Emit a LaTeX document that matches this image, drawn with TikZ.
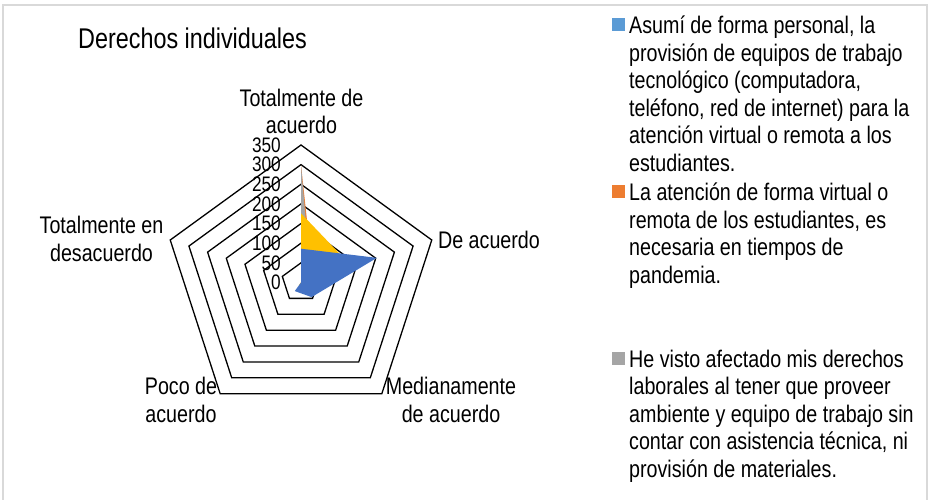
\documentclass[tikz,border=0pt]{standalone}
\usepackage{fontspec}
\setmainfont{Liberation Sans}[FakeStretch=0.82]
\usepackage{tikz}
\usetikzlibrary{calc}
\definecolor{serblue}{HTML}{4472C4}
\definecolor{keyblue}{HTML}{5B9BD5}
\definecolor{serorange}{HTML}{ED7D31}
\definecolor{sergray}{HTML}{A5A5A5}
\definecolor{seryellow}{HTML}{FFC000}
\definecolor{frame}{HTML}{D9D9D9}
\def\radarfill[#1](#2:#3:#4:#5:#6){\fill[#1] (90:#2) -- (18:#3) -- (-54:#4) -- (-126:#5) -- (162:#6) -- cycle;}
\tikzset{
  ring/.style={draw=black, line width=1.3pt, line join=miter},
  axislabel/.style={inner sep=0pt, align=center, font=\fontsize{24}{27.5}\selectfont},
  ticklabel/.style={inner sep=0pt, anchor=east, font=\fontsize{21}{21}\selectfont},
  keytext/.style={inner sep=0pt, anchor=north west, align=left, font=\fontsize{24}{27.5}\selectfont},
  keybox/.style={inner sep=0pt, minimum size=13pt}
}
\begin{document}
\begin{tikzpicture}[x=1pt, y=1pt]
		%%%%% START %%%%%
		\useasboundingbox (0, 0) rectangle (931, 500);
		\fill[white] (0, 0) rectangle (931, 500);
		\draw[frame, line width=1.2pt] (3, -10) -- (3, 495) -- (927, 495) -- (927, -10);
		
		\node[inner sep=0pt, anchor=base west, font=\fontsize{28.5}{30}\selectfont] (title) at (78, 451.7) {Derechos individuales};
		
		\begin{scope}[shift={(301, 217.5)}, x=0.392857pt, y=0.392857pt]
			\foreach \r in {50,100,...,350}
				\draw[ring] (90:\r) -- (18:\r) -- (-54:\r) -- (-126:\r) -- (162:\r) -- cycle;
			
			\radarfill[serorange](299:33:10:5:0)
			\radarfill[sergray](300:26:8:4:0)
			\radarfill[seryellow](176:135:20:10:0)
			\radarfill[serblue](86:203:46:27:0)
			
			\foreach \v in {0,50,...,350}
				\node[ticklabel] (tick\v) at (-51, \v) {\v};
		\end{scope}
		
		\node[axislabel] (totacuerdo) at (301.5, 388.5) {Totalmente de\\acuerdo};
		\node[axislabel] (deacuerdo) at (489, 260) {De acuerdo};
		\node[axislabel] (medacuerdo) at (451, 100) {Medianamente\\de acuerdo};
		\node[axislabel] (pocoacuerdo) at (181, 100) {Poco de\\acuerdo};
		\node[axislabel] (totdesacuerdo) at (101.5, 261) {Totalmente en\\desacuerdo};
		
		\node[keybox, fill=keyblue] (keyA) at (618.5, 475) {};
		\node[keytext] (textA) at (629, 485.6) {\strut Asumí de forma personal, la\\provisión de equipos de trabajo\\tecnológico (computadora,\\teléfono, red de internet) para la\\atención virtual o remota a los\\estudiantes.};
		\node[keybox, fill=serorange] (keyB) at (618.5, 308) {};
		\node[keytext] (textB) at (629, 318.6) {\strut La atención de forma virtual o\\remota de los estudiantes, es\\necesaria en tiempos de\\pandemia.};
		\node[keybox, fill=sergray] (keyC) at (618.5, 141.5) {};
		\node[keytext] (textC) at (629, 152.3) {\strut He visto afectado mis derechos\\laborales al tener que proveer\\ambiente y equipo de trabajo sin\\contar con asistencia técnica, ni\\provisión de materiales.};
		%%%%% END %%%%%
\end{tikzpicture}
\end{document}
